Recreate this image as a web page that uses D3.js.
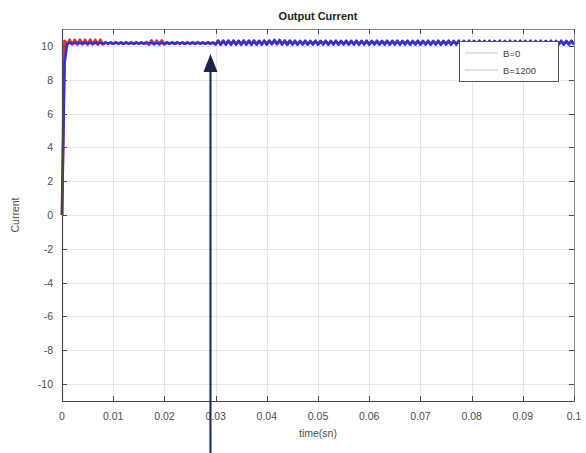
<!DOCTYPE html>
<html>
<head>
<meta charset="utf-8">
<script src="https://cdn.jsdelivr.net/npm/d3@7"></script>
<style>
  html, body { margin: 0; padding: 0; background: #fff; }
  svg { display: block; font-family: "Liberation Sans", Arial, sans-serif; }
</style>
</head>
<body>
<svg id="chart" width="586" height="453"></svg>
<script>
// Sampling step of the simulated traces (seconds)
const dt = 0.0005;

// Output current for B=0 (A), one sample every dt
const currentB0 = [
  0, 10.3, 10.08, 10.36, 10.09, 10.35, 10.08, 10.37, 10.09, 10.35,
  10.08, 10.36, 10.09, 10.35, 10.08, 10.36, 10.09, 10.22, 10.12, 10.21,
  10.13, 10.22, 10.12, 10.21, 10.13, 10.22, 10.12, 10.21, 10.13, 10.22,
  10.12, 10.21, 10.13, 10.22, 10.08, 10.32, 10.09, 10.31, 10.08, 10.32,
  10.09, 10.22, 10.12, 10.21, 10.13, 10.22, 10.12, 10.21, 10.13, 10.22,
  10.12, 10.21, 10.13, 10.22, 10.12, 10.21, 10.13, 10.22, 10.12, 10.21,
  10.10, 10.30, 10.11, 10.29, 10.10, 10.31, 10.11, 10.30, 10.10, 10.29,
  10.11, 10.30, 10.10, 10.31, 10.11, 10.30, 10.10, 10.29, 10.11, 10.30,
  10.10, 10.31, 10.11, 10.30, 10.10, 10.29, 10.11, 10.30, 10.10, 10.31,
  10.11, 10.25, 10.12, 10.24, 10.13, 10.25, 10.12, 10.24, 10.13, 10.25,
  10.12, 10.24, 10.13, 10.25, 10.12, 10.24, 10.13, 10.25, 10.12, 10.24,
  10.13, 10.25, 10.12, 10.24, 10.13, 10.25, 10.12, 10.24, 10.13, 10.25,
  10.12, 10.24, 10.13, 10.25, 10.12, 10.24, 10.13, 10.25, 10.12, 10.24,
  10.13, 10.25, 10.12, 10.24, 10.13, 10.25, 10.12, 10.24, 10.13, 10.25,
  10.12, 10.24, 10.13, 10.25, 10.12, 10.24, 10.13, 10.25, 10.12, 10.24,
  10.13, 10.25, 10.12, 10.24, 10.13, 10.25, 10.12, 10.24, 10.13, 10.25,
  10.12, 10.24, 10.13, 10.25, 10.12, 10.24, 10.13, 10.25, 10.12, 10.24,
  10.13, 10.25, 10.12, 10.24, 10.13, 10.25, 10.12, 10.24, 10.13, 10.25,
  10.12, 10.24, 10.13, 10.25, 10.12, 10.24, 10.13, 10.25, 10.12, 10.24,
  10.13, 10.25, 10.12, 10.24, 10.13, 10.25, 10.12, 10.24, 10.13, 10.25,
  10.12
];

// Output current for B=1200 (A), one sample every dt
const currentB1200 = [
  0, 9.0, 10.10, 10.19, 10.13, 10.18, 10.14, 10.19, 10.13, 10.18,
  10.14, 10.19, 10.13, 10.18, 10.14, 10.19, 10.13, 10.18, 10.14, 10.19,
  10.13, 10.18, 10.14, 10.19, 10.13, 10.18, 10.14, 10.19, 10.13, 10.18,
  10.14, 10.19, 10.13, 10.18, 10.14, 10.19, 10.13, 10.18, 10.14, 10.19,
  10.13, 10.18, 10.14, 10.19, 10.13, 10.18, 10.14, 10.19, 10.13, 10.18,
  10.14, 10.19, 10.13, 10.18, 10.14, 10.19, 10.13, 10.18, 10.14, 10.19,
  10.08, 10.30, 10.07, 10.31, 10.08, 10.30, 10.07, 10.31, 10.08, 10.30,
  10.07, 10.31, 10.08, 10.30, 10.07, 10.31, 10.08, 10.30, 10.07, 10.31,
  10.08, 10.30, 10.12, 10.36, 10.12, 10.35, 10.08, 10.31, 10.07, 10.30,
  10.08, 10.31, 10.07, 10.30, 10.08, 10.31, 10.07, 10.30, 10.08, 10.31,
  10.07, 10.30, 10.08, 10.31, 10.07, 10.30, 10.08, 10.31, 10.07, 10.30,
  10.08, 10.31, 10.07, 10.30, 10.08, 10.31, 10.07, 10.30, 10.08, 10.31,
  10.07, 10.30, 10.08, 10.31, 10.07, 10.30, 10.08, 10.31, 10.07, 10.30,
  10.08, 10.31, 10.07, 10.30, 10.08, 10.31, 10.07, 10.30, 10.08, 10.31,
  10.07, 10.30, 10.08, 10.31, 10.07, 10.30, 10.08, 10.31, 10.07, 10.30,
  10.08, 10.31, 10.07, 10.30, 10.08, 10.31, 10.07, 10.30, 10.08, 10.31,
  10.07, 10.30, 10.08, 10.31, 10.07, 10.30, 10.08, 10.31, 10.07, 10.30,
  10.08, 10.31, 10.07, 10.30, 10.08, 10.31, 10.07, 10.30, 10.08, 10.31,
  10.07, 10.30, 10.08, 10.31, 10.07, 10.30, 10.08, 10.31, 10.07, 10.30,
  10.08, 10.31, 10.07, 10.30, 10.08, 10.31, 10.07, 10.30, 10.08, 10.31,
  10.08
];

const seriesNames = ["B=0", "B=1200"];
const xTicks = [0, 0.01, 0.02, 0.03, 0.04, 0.05, 0.06, 0.07, 0.08, 0.09, 0.1];
const xTickLabels = ["0", "0.01", "0.02", "0.03", "0.04", "0.05", "0.06", "0.07", "0.08", "0.09", "0.1"];
const yTicks = [-10, -8, -6, -4, -2, 0, 2, 4, 6, 8, 10];
const markerTime = 0.029; // instant pointed at by the arrow

const svg = d3.select("#chart");
const plot = { left: 62, right: 574, top: 29, bottom: 401 };

const x = d3.scaleLinear().domain([0, 0.1]).range([plot.left, plot.right]);
const y = d3.scaleLinear().domain([-11, 11]).range([plot.bottom, plot.top]);

// Grid
const grid = svg.append("g").attr("stroke", "#e6e6e6").attr("stroke-width", 1);
grid.selectAll(".gx").data(xTicks.slice(1, -1)).enter().append("line")
  .attr("x1", d => Math.round(x(d)) + 0.5).attr("x2", d => Math.round(x(d)) + 0.5)
  .attr("y1", plot.top).attr("y2", plot.bottom);
grid.selectAll(".gy").data(yTicks).enter().append("line")
  .attr("y1", d => Math.round(y(d)) + 0.5).attr("y2", d => Math.round(y(d)) + 0.5)
  .attr("x1", plot.left).attr("x2", plot.right);

// Traces
const line = d3.line().x((d, i) => x(i * dt)).y(d => y(d));
svg.append("path").datum(currentB0)
  .attr("d", line).attr("fill", "none")
  .attr("stroke", "#e02e3c").attr("stroke-width", 2.8).attr("stroke-linejoin", "round");
svg.append("path").datum(currentB1200)
  .attr("d", line).attr("fill", "none")
  .attr("stroke", "#3232d2").attr("stroke-width", 2.6).attr("stroke-linejoin", "round");

// Axes (box with inward ticks on all sides)
const axisColor = "#4a4a4a";
const tickLen = 5;
const axes = svg.append("g");
axes.append("rect")
  .attr("x", plot.left + 0.5).attr("y", plot.top + 0.5)
  .attr("width", plot.right - plot.left).attr("height", plot.bottom - plot.top)
  .attr("fill", "none").attr("stroke", "#8a8a8a").attr("stroke-width", 1);
axes.append("line").attr("x1", plot.left).attr("x2", plot.right)
  .attr("y1", plot.bottom + 0.5).attr("y2", plot.bottom + 0.5)
  .attr("stroke", axisColor).attr("stroke-width", 1.2);
axes.append("line").attr("x1", plot.left + 0.5).attr("x2", plot.left + 0.5)
  .attr("y1", plot.top).attr("y2", plot.bottom)
  .attr("stroke", axisColor).attr("stroke-width", 1.2);

xTicks.forEach(t => {
  const px = Math.round(x(t)) + 0.5;
  axes.append("line").attr("x1", px).attr("x2", px)
    .attr("y1", plot.bottom).attr("y2", plot.bottom - tickLen).attr("stroke", axisColor);
  axes.append("line").attr("x1", px).attr("x2", px)
    .attr("y1", plot.top).attr("y2", plot.top + tickLen).attr("stroke", axisColor);
});
yTicks.forEach(t => {
  const py = Math.round(y(t)) + 0.5;
  axes.append("line").attr("y1", py).attr("y2", py)
    .attr("x1", plot.left).attr("x2", plot.left + tickLen).attr("stroke", axisColor);
  axes.append("line").attr("y1", py).attr("y2", py)
    .attr("x1", plot.right).attr("x2", plot.right - tickLen).attr("stroke", axisColor);
});

// Tick labels
const labelColor = "#4d4d4d";
svg.append("g").selectAll("text").data(xTicks).enter().append("text")
  .attr("x", d => x(d)).attr("y", 420)
  .attr("text-anchor", "middle").attr("font-size", 10.5).attr("fill", labelColor)
  .text((d, i) => xTickLabels[i]);
svg.append("g").selectAll("text").data(yTicks).enter().append("text")
  .attr("x", 53).attr("y", d => y(d) + 4)
  .attr("text-anchor", "end").attr("font-size", 10.5).attr("fill", labelColor)
  .text(d => d);

// Titles
svg.append("text").attr("x", (plot.left + plot.right) / 2).attr("y", 20)
  .attr("text-anchor", "middle").attr("font-size", 11).attr("font-weight", "bold")
  .attr("fill", "#222").text("Output Current");
svg.append("text").attr("x", (plot.left + plot.right) / 2).attr("y", 437)
  .attr("text-anchor", "middle").attr("font-size", 10.5).attr("fill", labelColor)
  .text("time(sn)");
svg.append("text").attr("transform", `translate(19,${y(0)}) rotate(-90)`)
  .attr("text-anchor", "middle").attr("font-size", 10.5).attr("fill", labelColor)
  .text("Current");

// Legend
const legend = svg.append("g").attr("transform", "translate(459,41)");
legend.append("rect").attr("x", 0.5).attr("y", 0.5).attr("width", 99).attr("height", 40)
  .attr("fill", "#fff").attr("stroke", "#555").attr("stroke-width", 1);
seriesNames.forEach((name, i) => {
  const ly = 12 + i * 17;
  legend.append("line").attr("x1", 6).attr("x2", 39).attr("y1", ly).attr("y2", ly)
    .attr("stroke", "#c4c4c4").attr("stroke-width", 1);
  legend.append("text").attr("x", 44).attr("y", ly + 3.5)
    .attr("font-size", 9.5).attr("fill", "#444").text(name);
});

// Arrow marking the instant of interest
const ax = x(markerTime);
svg.append("line").attr("x1", ax).attr("x2", ax).attr("y1", 453).attr("y2", 66)
  .attr("stroke", "#1c2450").attr("stroke-width", 2);
svg.append("path")
  .attr("d", `M${ax},${y(10) + 8} L${ax - 7},${y(10) + 26} L${ax + 7},${y(10) + 26} Z`)
  .attr("fill", "#1c2450");
</script>
</body>
</html>
